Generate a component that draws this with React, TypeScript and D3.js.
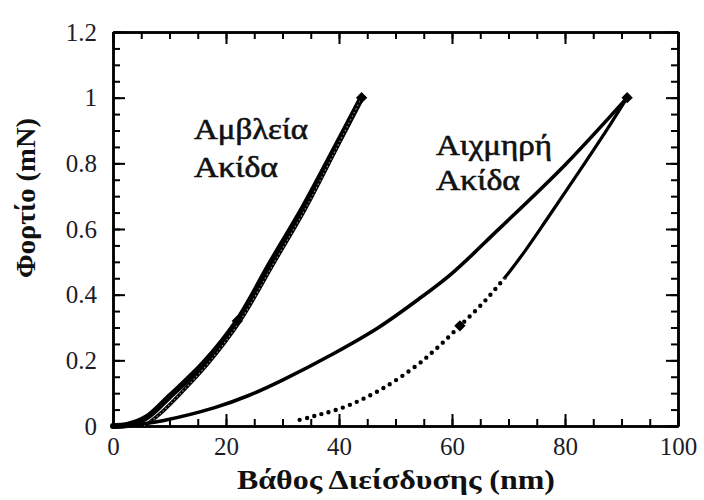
import { useEffect, useRef } from 'react';
import * as d3 from 'd3';

// Blunt tip (Αμβλεία Ακίδα): loading and unloading nearly overlap
const bluntLoadDepth = [0, 2.5, 6, 10, 16, 22, 28, 33.5, 38.5, 44];
const bluntLoadForce = [0, 0.003, 0.027, 0.09, 0.19, 0.32, 0.5, 0.66, 0.82, 1.0];
const bluntUnloadDepth = [44, 38.8, 34, 28.6, 22.5, 16.8, 12, 8.5, 6.5, 5.5];
const bluntUnloadForce = [1.0, 0.82, 0.66, 0.5, 0.32, 0.19, 0.1, 0.04, 0.012, 0];

// Sharp tip (Αιχμηρή Ακίδα)
const sharpLoadDepth = [0, 5, 9, 18, 24, 30, 39, 47, 54, 60, 68, 80, 91];
const sharpLoadForce = [0, 0.006, 0.017, 0.056, 0.093, 0.14, 0.22, 0.3, 0.385, 0.465, 0.595, 0.795, 1.0];
const sharpUnloadDepth = [91, 88, 82.7, 77, 73, 69.5, 65.5, 61.4, 57.5, 53.8, 47.8, 42, 38.7, 36.6, 34.7, 31.9];
const sharpUnloadForce = [1.0, 0.918, 0.78, 0.635, 0.535, 0.455, 0.375, 0.305, 0.24, 0.185, 0.115, 0.065, 0.045, 0.035, 0.026, 0.014];

// marked points on the curves
const markerDepth = [22, 61.4, 44, 91];
const markerForce = [0.32, 0.305, 1.0, 1.0];

const xMajorTicks = [0, 20, 40, 60, 80, 100];
const yMajorTicks = [0, 0.2, 0.4, 0.6, 0.8, 1, 1.2];

const xTitle = 'Βάθος Διείσδυσης (nm)';
const yTitle = 'Φορτίο (mN)';

const W = 704;
const H = 500;
const FONT = '"Liberation Serif", "DejaVu Serif", serif';

const App = () => {
  const ref = useRef<SVGSVGElement>(null);

  useEffect(() => {
    if (!ref.current) return;
    const svg = d3.select(ref.current);
    svg.selectAll('*').remove();

    const margin = { top: 32, right: 26, bottom: 74, left: 113 };
    const width = W - margin.left - margin.right;
    const height = H - margin.top - margin.bottom;

    const g = svg.append('g').attr('transform', `translate(${margin.left},${margin.top})`);

    const x = d3.scaleLinear().domain([0, 100]).range([0, width]);
    const y = d3.scaleLinear().domain([0, 1.2]).range([height, 0]);

    const xMinor = d3.range(0, 100.01, 5);
    const yMinor = d3.range(0, 1.2001, 0.05);

    const styleAxis = (sel: any) => {
      sel.select('.domain').attr('stroke', '#000').attr('stroke-width', 2.5);
      sel.selectAll('.tick line').attr('stroke', '#000').attr('stroke-width', 2);
      sel.selectAll('text')
        .attr('fill', '#1c1c28')
        .style('font-family', FONT)
        .style('font-size', '25px');
    };

    // minor ticks, all four sides
    g.append('g').attr('transform', `translate(0,${height})`)
      .call(d3.axisBottom(x).tickValues(xMinor).tickSize(-7).tickSizeOuter(0).tickFormat(() => ''))
      .call(styleAxis);
    g.append('g')
      .call(d3.axisTop(x).tickValues(xMinor).tickSize(-7).tickSizeOuter(0).tickFormat(() => ''))
      .call(styleAxis);
    g.append('g')
      .call(d3.axisLeft(y).tickValues(yMinor).tickSize(-7).tickSizeOuter(0).tickFormat(() => ''))
      .call(styleAxis);
    g.append('g').attr('transform', `translate(${width},0)`)
      .call(d3.axisRight(y).tickValues(yMinor).tickSize(-7).tickSizeOuter(0).tickFormat(() => ''))
      .call(styleAxis);

    // major ticks with labels
    g.append('g').attr('transform', `translate(0,${height})`)
      .call(d3.axisBottom(x).tickValues(xMajorTicks).tickSize(-12).tickSizeOuter(0).tickPadding(11).tickFormat(d3.format('d')))
      .call(styleAxis);
    g.append('g')
      .call(d3.axisTop(x).tickValues(xMajorTicks).tickSize(-12).tickSizeOuter(0).tickFormat(() => ''))
      .call(styleAxis);
    g.append('g')
      .call(d3.axisLeft(y).tickValues(yMajorTicks).tickSize(-12).tickSizeOuter(0).tickPadding(16).tickFormat((d: any) => `${+d.toFixed(1)}`))
      .call(styleAxis);
    g.append('g').attr('transform', `translate(${width},0)`)
      .call(d3.axisRight(y).tickValues(yMajorTicks).tickSize(-12).tickSizeOuter(0).tickFormat(() => ''))
      .call(styleAxis);

    const pts = (xs: number[], ys: number[]) => xs.map((d, i) => [x(d), y(ys[i])] as [number, number]);
    const path = d3.line().curve(d3.curveCatmullRom.alpha(0.5));

    // clip regions splitting the sharp unloading curve into solid top / dotted bottom
    const defs = svg.append('defs');
    const splitY = y(0.45);
    defs.append('clipPath').attr('id', 'clip-upper')
      .append('rect').attr('x', -10).attr('y', -10).attr('width', width + 20).attr('height', splitY + 10);
    defs.append('clipPath').attr('id', 'clip-lower')
      .append('rect').attr('x', -10).attr('y', splitY).attr('width', width + 20).attr('height', height - splitY + 10);

    // blunt tip
    g.append('path')
      .attr('d', path(pts(bluntLoadDepth, bluntLoadForce)))
      .attr('fill', 'none').attr('stroke', '#000').attr('stroke-width', 6).attr('stroke-linecap', 'round');
    g.append('path')
      .attr('d', path(pts(bluntUnloadDepth, bluntUnloadForce)))
      .attr('fill', 'none').attr('stroke', '#000').attr('stroke-width', 3.5).attr('stroke-linecap', 'round');
    g.append('path')
      .attr('d', path(pts(bluntUnloadDepth, bluntUnloadForce)))
      .attr('fill', 'none').attr('stroke', '#8a8a8a').attr('stroke-width', 1.2)
      .attr('stroke-dasharray', '1.5 2.5');

    // sharp tip loading
    g.append('path')
      .attr('d', path(pts(sharpLoadDepth, sharpLoadForce)))
      .attr('fill', 'none').attr('stroke', '#000').attr('stroke-width', 3.6).attr('stroke-linecap', 'round');

    // sharp tip unloading: solid upper part, dotted lower part
    const unloadD = path(pts(sharpUnloadDepth, sharpUnloadForce));
    g.append('path')
      .attr('d', unloadD)
      .attr('clip-path', 'url(#clip-upper)')
      .attr('fill', 'none').attr('stroke', '#000').attr('stroke-width', 3.2).attr('stroke-linecap', 'round');
    g.append('path')
      .attr('d', unloadD)
      .attr('clip-path', 'url(#clip-lower)')
      .attr('fill', 'none').attr('stroke', '#000').attr('stroke-width', 4.4).attr('stroke-linecap', 'round')
      .attr('stroke-dasharray', '0 7.5');

    // markers
    g.selectAll('rect.mk')
      .data(markerDepth)
      .enter()
      .append('rect')
      .attr('class', 'mk')
      .attr('x', d => x(d) - 4)
      .attr('y', (d, i) => y(markerForce[i]) - 4)
      .attr('width', 8)
      .attr('height', 8)
      .attr('fill', '#000')
      .attr('transform', (d, i) => `rotate(45,${x(d)},${y(markerForce[i])})`);

    // annotations
    const ann = (t: string, ax: number, ay: number, len: number) =>
      g.append('text')
        .attr('x', ax - margin.left)
        .attr('y', ay - margin.top)
        .attr('textLength', len)
        .attr('lengthAdjust', 'spacingAndGlyphs')
        .style('font-family', FONT)
        .style('font-size', '29px')
        .attr('fill', '#111')
        .attr('stroke', '#111')
        .attr('stroke-width', 0.6)
        .text(t);
    ann('Αμβλεία', 194, 139, 114);
    ann('Ακίδα', 194, 177, 84);
    ann('Αιχμηρή', 436, 155, 116);
    ann('Ακίδα', 436, 190, 84);

    // axis titles
    svg.append('text')
      .attr('x', 396)
      .attr('y', 489)
      .attr('text-anchor', 'middle')
      .attr('textLength', 318)
      .attr('lengthAdjust', 'spacingAndGlyphs')
      .style('font-family', FONT)
      .style('font-size', '28px')
      .style('font-weight', 'bold')
      .attr('fill', '#111')
      .text(xTitle);

    svg.append('text')
      .attr('transform', 'translate(35,198) rotate(-90)')
      .attr('text-anchor', 'middle')
      .attr('textLength', 160)
      .attr('lengthAdjust', 'spacingAndGlyphs')
      .style('font-family', FONT)
      .style('font-size', '27px')
      .style('font-weight', 'bold')
      .attr('fill', '#111')
      .text(yTitle);
  }, []);

  return (
    <svg
      ref={ref}
      width={W}
      height={H}
      style={{ position: 'absolute', left: 0, top: 0, background: '#fff' }}
    />
  );
};

export default App;
